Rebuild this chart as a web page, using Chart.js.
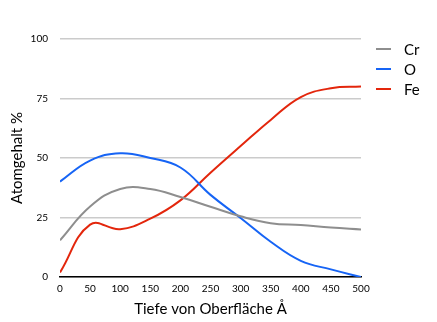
<!DOCTYPE html>
<html>
<head>
<meta charset="utf-8">
<script src="https://cdn.jsdelivr.net/npm/chart.js@4"></script>
<style>
html,body{margin:0;padding:0;background:#fff;}
#wrap{width:437px;height:322px;position:relative;}
</style>
</head>
<body>
<div id="wrap"><canvas id="c" width="437" height="322"></canvas></div>
<script>
const depth = [0,50,100,150,200,250,300,350,400,450,500];
const cr = [15.4,29.6,37,37,33.6,29.5,25.5,22.6,21.8,20.8,20];
const o  = [40.1,48.9,52,50,46,34.5,24.8,14.8,6.8,3.2,0];
const fe = [1.9,22,20.1,24.5,32.2,43.8,55,66,75.6,79.3,80];
const xTicks = [0,50,100,150,200,250,300,350,400,450,500];
const yTicks = [0,25,50,75,100];
const seriesNames = ['Cr','O','Fe'];
const seriesColors = ['#8e8e8e','#1664f5','#e3260c'];

const FONT = 'Lato, "Open Sans", sans-serif';
const series = [cr,o,fe];

const legendPlugin = {
  id: 'sideLegend',
  afterDraw(chart){
    const ctx = chart.ctx;
    ctx.save();
    chart.data.datasets.forEach((ds,i)=>{
      const y = 49 + i*20;
      ctx.strokeStyle = ds.borderColor;
      ctx.lineWidth = 2;
      ctx.beginPath();
      ctx.moveTo(376,y);
      ctx.lineTo(391,y);
      ctx.stroke();
      ctx.fillStyle = '#000';
      ctx.font = '15px ' + FONT;
      ctx.textBaseline = 'middle';
      ctx.textAlign = 'left';
      ctx.fillText(ds.label, 404, y+1);
    });
    ctx.restore();
  }
};

new Chart(document.getElementById('c'), {
  type: 'line',
  data: {
    datasets: series.map((s,i)=>({
      label: seriesNames[i],
      data: depth.map((d,j)=>({x:d,y:s[j]})),
      borderColor: seriesColors[i],
      backgroundColor: seriesColors[i],
      borderWidth: 2,
      pointRadius: 0,
      fill: false,
      tension: 0.42
    }))
  },
  options: {
    responsive: false,
    animation: false,
    devicePixelRatio: 1,
    layout: { padding: { top: 39, right: 76, bottom: 2, left: 0 } },
    plugins: { legend: { display: false }, tooltip: { enabled: false } },
    scales: {
      x: {
        type: 'linear', min: 0, max: 500,
        afterBuildTicks(scale){ scale.ticks = xTicks.map(v=>({value:v})); },
        afterFit(scale){ scale.height = 43; },
        grid: { display: false, drawTicks: false },
        border: { display: true, color: '#000', width: 1.5 },
        ticks: { padding: 6, color: '#000', font: { family: FONT, size: 10 }, maxRotation: 0, autoSkip: false },
        title: { display: true, text: 'Tiefe von Oberfläche Å', color: '#000', font: { family: FONT, size: 15 }, padding: { top: 0, bottom: 2 } }
      },
      y: {
        min: 0, max: 100,
        afterBuildTicks(scale){ scale.ticks = yTicks.map(v=>({value:v})); },
        afterFit(scale){ scale.width = 60; },
        grid: { color: '#cbcbcb', lineWidth: 1.5, drawTicks: false },
        border: { display: false },
        ticks: { padding: 12, color: '#000', font: { family: FONT, size: 10 } },
        title: { display: true, text: 'Atomgehalt %', color: '#000', font: { family: FONT, size: 15 }, padding: { top: 8, bottom: 0 } }
      }
    }
  },
  plugins: [legendPlugin]
});
</script>
</body>
</html>
